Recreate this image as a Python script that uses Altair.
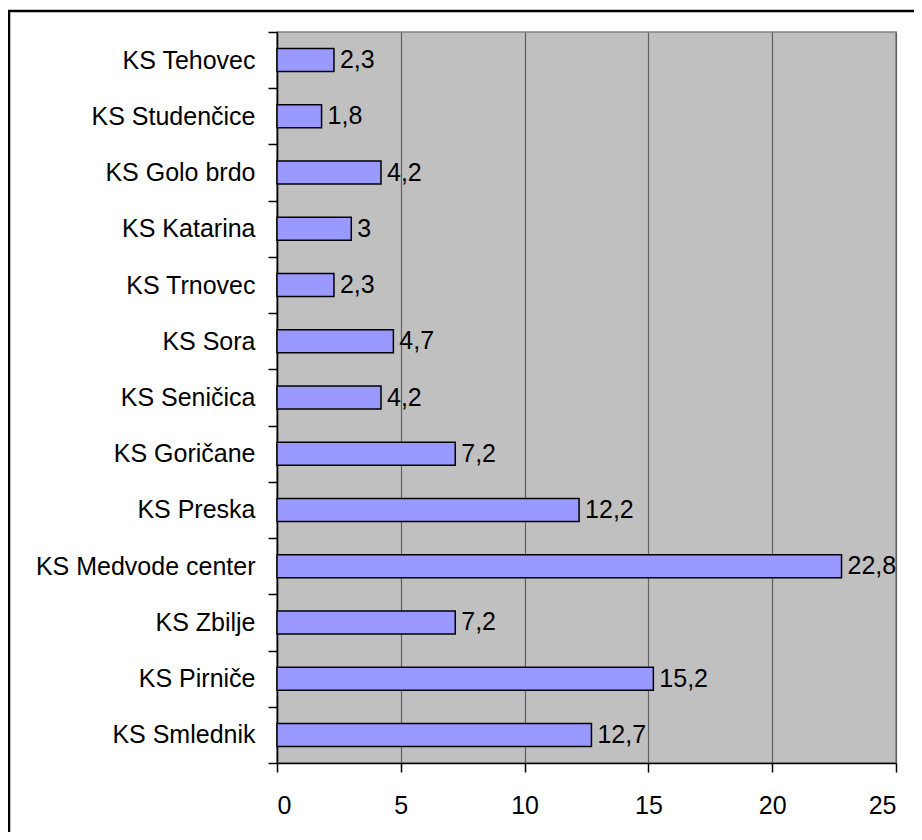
import altair as alt
import pandas as pd

categories = ["KS Tehovec", "KS Studenčice", "KS Golo brdo", "KS Katarina", "KS Trnovec",
              "KS Sora", "KS Seničica", "KS Goričane", "KS Preska", "KS Medvode center",
              "KS Zbilje", "KS Pirniče", "KS Smlednik"]
values = [2.3, 1.8, 4.2, 3, 2.3, 4.7, 4.2, 7.2, 12.2, 22.8, 7.2, 15.2, 12.7]
x_ticks = [0, 5, 10, 15, 20, 25]

df = pd.DataFrame({"cat": categories, "value": values})
FONT = "Liberation Sans, Arial, sans-serif"
FS = 25

base = alt.Chart(df).encode(
    y=alt.Y("cat:N", sort=categories, title=None,
            scale=alt.Scale(paddingInner=0, paddingOuter=0),
            axis=alt.Axis(tickBand="extent", labelFontSize=FS, labelFont=FONT,
                          labelColor="black", tickSize=9, tickColor="black",
                          tickWidth=1.5, domainColor="black", domainWidth=1.5,
                          labelPadding=13, labelLimit=400, grid=False)),
)

bars = base.mark_bar(size=23, color="#9999FF", stroke="black", strokeWidth=1.5).encode(
    x=alt.X("value:Q", title=None,
            scale=alt.Scale(domain=[0, 25], nice=False),
            axis=alt.Axis(values=x_ticks, labelFontSize=FS, labelFont=FONT,
                          labelColor="black", tickSize=9, tickColor="black",
                          tickWidth=1.5, domainColor="black", domainWidth=1.5,
                          labelPadding=21, grid=True, gridColor="#606060",
                          gridWidth=1.2, gridOpacity=1)),
)

labels = base.mark_text(align="left", baseline="middle", dx=6, fontSize=FS,
                        font=FONT, color="black").transform_calculate(
    lab="replace(toString(datum.value), '.', ',')"
).encode(x="value:Q", text="lab:N")

border = alt.Chart(pd.DataFrame({"a": [0]})).mark_rect(
    filled=False, stroke="black", strokeWidth=2.5, clip=False
).encode(x=alt.value(-268), x2=alt.value(700), y=alt.value(-21), y2=alt.value(900))

chart = alt.layer(bars, labels, border).properties(
    width=619, height=731,
    background="white",
    autosize=alt.AutoSizeParams(type="none"),
    padding={"left": 269, "top": 24, "right": 18, "bottom": 69},
).configure_view(
    fill="#C0C0C0", stroke="#808080", strokeWidth=1.5
)

chart.save("out.html", embed_options={"renderer": "svg", "actions": False})
